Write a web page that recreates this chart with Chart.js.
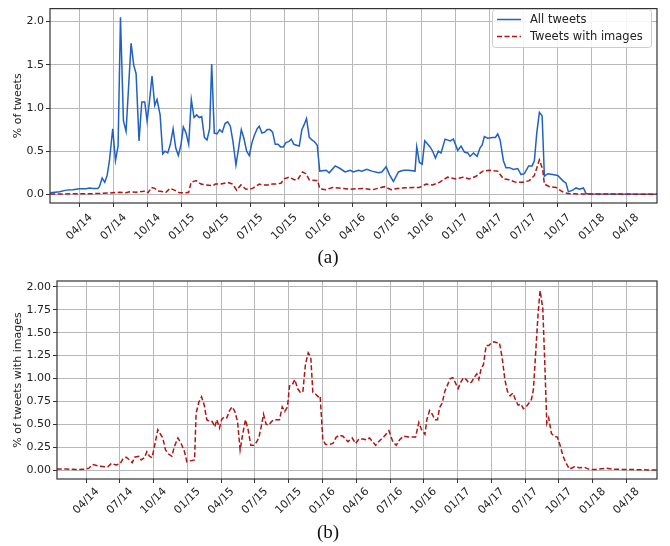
<!DOCTYPE html>
<html lang="en">
  <head>
    <meta charset="UTF-8" />
    <title>Tweets over time</title>
    <script src="https://cdn.jsdelivr.net/npm/chart.js"></script>
    <style>
      body { margin: 0; background: #fff; width: 670px; height: 546px; position: relative; overflow: hidden; }
      canvas { position: absolute; left: 0; }
      .cap { position: absolute; left: 0; width: 656px; text-align: center; font: 19px "Liberation Serif", serif; color: #111; }
    </style>
  </head>
  <body>
    <canvas id="chartA" width="670" height="250" style="top:0"></canvas>
    <div class="cap" style="top:246px">(a)</div>
    <canvas id="chartB" width="670" height="250" style="top:270px"></canvas>
    <div class="cap" style="top:521px">(b)</div>

    <script>
      // x values are months since Jan 2014 (3 = April 2014)
      const quarterPos = [3, 6, 9, 12, 15, 18, 21, 24, 27, 30, 33, 36, 39, 42, 45, 48, 51];
      const quarterLabels = ["04/14", "07/14", "10/14", "01/15", "04/15", "07/15", "10/15", "01/16",
        "04/16", "07/16", "10/16", "01/17", "04/17", "07/17", "10/17", "01/18", "04/18"];
      const xMin = 0.41, xMax = 53.72;

      const yTicksA = [0, 0.5, 1, 1.5, 2];
      const yTicksB = [0, 0.25, 0.5, 0.75, 1, 1.25, 1.5, 1.75, 2];

      // (a) All tweets
      const allT = [0.43, 1.25, 1.83, 2.42, 3.00, 3.58, 3.88, 4.17, 4.61, 4.75, 4.99, 5.22, 5.43, 5.63, 5.92,
        6.16, 6.39, 6.60, 6.86, 7.09, 7.53, 7.77, 7.97, 8.23, 8.47, 8.73, 8.94, 9.14, 9.37, 9.61, 9.81,
        10.08, 10.31, 10.51, 10.75, 10.98, 11.22, 11.45, 11.68, 11.92, 12.12, 12.36, 12.59, 12.82, 13.06,
        13.29, 13.53, 13.73, 13.97, 14.20, 14.43, 14.61, 14.84, 15.08, 15.31, 15.54, 15.78, 16.01, 16.25,
        16.48, 16.74, 16.98, 17.21, 17.44, 17.68, 17.91, 18.15, 18.38, 18.61, 18.79, 19.02, 19.26, 19.49,
        19.73, 19.96, 20.19, 20.43, 20.66, 20.90, 21.13, 21.36, 21.60, 21.83, 22.06, 22.30, 22.53, 22.74,
        22.94, 23.18, 23.41, 23.64, 23.88, 24.10, 24.67, 24.93, 25.46, 25.89, 26.33, 26.77, 27.06, 27.50,
        27.80, 28.23, 28.67, 29.26, 29.55, 29.93, 30.22, 30.57, 31.01, 31.45, 31.89, 32.47, 32.62, 32.85,
        33.10, 33.32, 33.79, 34.02, 34.26, 34.52, 34.75, 35.11, 35.55, 35.84, 36.22, 36.51, 36.81, 37.10,
        37.30, 37.60, 37.92, 38.18, 38.36, 38.56, 38.85, 39.29, 39.53, 39.73, 39.94, 40.23, 40.46, 40.76,
        41.11, 41.49, 41.78, 42.07, 42.45, 42.75, 42.95, 43.16, 43.39, 43.63, 43.83, 44.12, 44.56, 45.00,
        45.44, 45.73, 45.94, 46.32, 46.61, 46.90, 47.26, 47.49, 47.78, 53.72];
      const allV = [0.02, 0.03, 0.05, 0.055, 0.065, 0.065, 0.075, 0.07, 0.07, 0.09, 0.19, 0.14, 0.22, 0.39, 0.76,
        0.39, 0.56, 2.05, 0.85, 0.73, 1.75, 1.49, 1.40, 0.62, 1.07, 1.07, 0.85, 1.07, 1.37, 1.03, 1.10,
        0.92, 0.47, 0.50, 0.48, 0.58, 0.76, 0.54, 0.45, 0.58, 0.78, 0.71, 0.58, 1.10, 0.89,
        0.92, 0.89, 0.90, 0.66, 0.63, 0.76, 1.51, 0.71, 0.70, 0.75, 0.72, 0.82, 0.84, 0.79,
        0.61, 0.34, 0.54, 0.75, 0.65, 0.50, 0.45, 0.60, 0.69, 0.76, 0.79, 0.71, 0.72, 0.75,
        0.75, 0.72, 0.58, 0.58, 0.55, 0.55, 0.60, 0.61, 0.64, 0.58, 0.57, 0.56, 0.75, 0.81,
        0.88, 0.66, 0.63, 0.61, 0.57, 0.27, 0.28, 0.25, 0.33, 0.30, 0.26, 0.28, 0.26, 0.28,
        0.27, 0.29, 0.27, 0.25, 0.26, 0.32, 0.23, 0.15, 0.26, 0.28, 0.28, 0.27, 0.55, 0.37,
        0.35, 0.62, 0.55, 0.50, 0.42, 0.50, 0.48, 0.64, 0.62, 0.64, 0.51, 0.56, 0.49, 0.48,
        0.44, 0.48, 0.44, 0.54, 0.57, 0.67, 0.65, 0.66, 0.66, 0.70, 0.63, 0.39, 0.31, 0.31,
        0.29, 0.30, 0.23, 0.24, 0.33, 0.33, 0.39, 0.71, 0.95, 0.91, 0.21, 0.24, 0.23, 0.22,
        0.16, 0.13, 0.03, 0.05, 0.075, 0.06, 0.075, 0.01, 0.005, 0.003];

      // (a) Tweets with images, % of all tweets
      const imgT = [0.43, 4.75, 5.92, 6.51, 7.09, 7.39, 7.97, 8.26, 8.85, 9.02, 9.32, 9.61, 9.96, 10.60, 10.95,
        11.33, 11.77, 12.36, 12.59, 12.80, 13.23, 13.67, 14.11, 14.70, 14.93, 15.43, 16.01, 16.45, 16.80,
        17.18, 17.62, 18.20, 18.79, 19.08, 19.52, 19.96, 20.25, 20.69, 20.98, 21.42, 21.86, 22.15, 22.59,
        22.88, 23.18, 23.76, 23.91, 24.11, 24.64, 25.22, 25.75, 26.71, 27.88, 28.76, 29.78, 30.37, 31.24,
        32.27, 32.85, 33.44, 34.02, 34.61, 35.34, 36.07, 36.66, 37.24, 37.83, 38.42, 39.00, 39.73, 40.23,
        40.76, 41.34, 41.93, 42.51, 42.95, 43.39, 43.68, 43.83, 44.27, 44.85, 45.44, 45.88, 47.20, 53.72];
      const imgV = [0.005, 0.01, 0.02, 0.025, 0.02, 0.03, 0.025, 0.03, 0.04, 0.02, 0.08, 0.07, 0.04, 0.025, 0.07,
        0.05, 0.02, 0.02, 0.025, 0.14, 0.16, 0.12, 0.11, 0.10, 0.12, 0.12, 0.14, 0.12, 0.05,
        0.11, 0.06, 0.07, 0.12, 0.11, 0.11, 0.12, 0.12, 0.13, 0.18, 0.20, 0.17, 0.17, 0.26,
        0.24, 0.17, 0.16, 0.16, 0.065, 0.055, 0.08, 0.075, 0.06, 0.07, 0.055, 0.09, 0.055, 0.075,
        0.08, 0.08, 0.12, 0.11, 0.14, 0.20, 0.18, 0.20, 0.18, 0.21, 0.27, 0.28, 0.27, 0.18,
        0.17, 0.14, 0.14, 0.16, 0.22, 0.40, 0.29, 0.12, 0.09, 0.08, 0.03, 0.01, 0.005, 0.003];

      // (b) % of tweets with images
      const pctT = [0.39, 1.22, 2.11, 2.94, 3.24, 3.59, 4.04, 4.63, 4.93, 5.22, 5.67, 6.02, 6.26, 6.55, 6.85,
        7.09, 7.30, 7.68, 7.89, 8.18, 8.39, 8.63, 8.86, 9.07, 9.37, 9.66, 9.81, 10.05, 10.32, 10.61, 10.85,
        11.15, 11.44, 11.74, 11.95, 12.24, 12.63, 12.77, 13.01, 13.25, 13.49, 13.72, 13.96, 14.20, 14.43,
        14.61, 14.85, 15.03, 15.26, 15.50, 15.74, 15.97, 16.21, 16.45, 16.68, 16.92, 17.16, 17.39, 17.63,
        17.87, 18.11, 18.34, 18.58, 18.76, 18.99, 19.23, 19.47, 19.71, 19.94, 20.18, 20.42, 20.65, 20.89,
        21.07, 21.31, 21.54, 21.78, 22.02, 22.25, 22.49, 22.73, 22.96, 23.14, 23.38, 23.62, 23.79, 24.03,
        24.27, 24.62, 24.92, 25.22, 25.51, 25.82, 26.26, 26.64, 26.94, 27.24, 27.59, 27.89, 28.18, 28.72,
        29.07, 29.43, 29.90, 30.25, 30.55, 30.85, 31.20, 31.62, 31.97, 32.27, 32.56, 32.80, 33.10, 33.27,
        33.51, 33.75, 33.98, 34.22, 34.40, 34.63, 34.87, 35.11, 35.34, 35.58, 35.82, 36.05, 36.29, 36.53,
        36.76, 37.00, 37.24, 37.47, 37.71, 37.89, 38.10, 38.30, 38.54, 38.78, 39.01, 39.25, 39.49, 39.72,
        39.96, 40.20, 40.43, 40.67, 40.91, 41.14, 41.38, 41.62, 41.85, 42.09, 42.33, 42.56, 42.74, 42.92,
        43.16, 43.33, 43.57, 43.75, 43.93, 44.10, 44.34, 44.58, 44.87, 45.11, 45.35, 45.58, 45.94, 46.38,
        46.83, 47.27, 47.71, 48.30, 49.19, 49.78, 50.67, 53.72];
      const pctV = [0.01, 0.01, 0.005, 0.01, 0.02, 0.06, 0.045, 0.035, 0.035, 0.07, 0.055, 0.07, 0.12, 0.14, 0.11,
        0.08, 0.14, 0.15, 0.11, 0.135, 0.20, 0.15, 0.135, 0.26, 0.44, 0.38, 0.35, 0.22, 0.175, 0.15, 0.26,
        0.35, 0.29, 0.20, 0.09, 0.10, 0.11, 0.62, 0.74, 0.80, 0.71, 0.55, 0.53, 0.53, 0.47,
        0.55, 0.46, 0.55, 0.58, 0.57, 0.65, 0.69, 0.64, 0.53, 0.22, 0.40, 0.55, 0.44, 0.27,
        0.27, 0.30, 0.35, 0.49, 0.61, 0.50, 0.49, 0.53, 0.55, 0.55, 0.55, 0.69, 0.64, 0.69,
        0.92, 0.93, 0.99, 0.89, 0.85, 0.85, 1.16, 1.28, 1.23, 0.85, 0.83, 0.80, 0.81, 0.33,
        0.28, 0.28, 0.29, 0.36, 0.38, 0.37, 0.31, 0.35, 0.29, 0.34, 0.34, 0.33, 0.35, 0.27,
        0.32, 0.36, 0.43, 0.31, 0.27, 0.33, 0.37, 0.36, 0.36, 0.36, 0.52, 0.44, 0.39, 0.55,
        0.65, 0.61, 0.55, 0.55, 0.68, 0.73, 0.86, 0.93, 1.00, 1.01, 0.95, 0.89, 0.96, 1.01,
        0.99, 0.95, 0.96, 1.01, 1.05, 0.99, 1.11, 1.15, 1.36, 1.36, 1.39, 1.40, 1.39, 1.39,
        1.23, 0.99, 0.86, 0.81, 0.84, 0.77, 0.71, 0.72, 0.67, 0.69, 0.73, 0.77, 0.88, 1.24,
        1.72, 1.96, 1.77, 1.17, 0.51, 0.57, 0.40, 0.37, 0.36, 0.27, 0.16, 0.09, 0.01, 0.035,
        0.025, 0.03, 0.007, 0.007, 0.02, 0.01, 0.007, 0.0];

      const BLUE = "#2160c4";
      const RED = "#b01515";
      const FONT = '"DejaVu Sans", sans-serif';

      const pts = (t, v) => t.map((x, i) => ({ x: x, y: v[i] }));

      // frame, rotated date labels, y title, optional legend
      function decorPlugin(yTitle, labelGap, legend) {
        return {
          id: "decor",
          afterDraw(chart) {
            const { ctx, chartArea: a, scales } = chart;
            ctx.save();
            ctx.strokeStyle = "#333";
            ctx.lineWidth = 1.2;
            ctx.strokeRect(a.left, a.top, a.right - a.left, a.bottom - a.top);

            ctx.fillStyle = "#222";
            ctx.font = "11px " + FONT;
            ctx.textAlign = "center";
            ctx.textBaseline = "middle";
            quarterPos.forEach((q, i) => {
              const px = scales.x.getPixelForValue(q);
              const w = ctx.measureText(quarterLabels[i]).width;
              const half = (w + 8) / (2 * Math.SQRT2);
              ctx.save();
              ctx.translate(px, a.bottom + labelGap + half);
              ctx.rotate(-Math.PI / 4);
              ctx.fillText(quarterLabels[i], 0, 0);
              ctx.restore();
            });

            ctx.save();
            ctx.translate(18, (a.top + a.bottom) / 2);
            ctx.rotate(-Math.PI / 2);
            ctx.fillText(yTitle, 0, 0);
            ctx.restore();

            if (legend) {
              ctx.fillStyle = "rgba(255,255,255,0.85)";
              ctx.strokeStyle = "#cccccc";
              ctx.lineWidth = 1;
              ctx.beginPath();
              ctx.roundRect(492.5, 9.5, 159, 38, 3);
              ctx.fill();
              ctx.stroke();
              const rows = [
                { label: "All tweets", color: BLUE, dash: [], y: 19.5 },
                { label: "Tweets with images", color: RED, dash: [5, 2.5], y: 36.5 },
              ];
              ctx.font = "11.5px " + FONT;
              ctx.textAlign = "left";
              rows.forEach((r) => {
                ctx.strokeStyle = r.color;
                ctx.lineWidth = 1.5;
                ctx.setLineDash(r.dash);
                ctx.beginPath();
                ctx.moveTo(497, r.y);
                ctx.lineTo(521, r.y);
                ctx.stroke();
                ctx.setLineDash([]);
                ctx.fillStyle = "#222";
                ctx.fillText(r.label, 530, r.y + 0.5);
              });
            }
            ctx.restore();
          },
        };
      }

      function makeOptions(yMin, yMax, yTicks, yWidth, xHeight, padTop, digits) {
        return {
          responsive: false,
          animation: false,
          devicePixelRatio: 1,
          layout: { padding: { left: 0, right: 13, top: padTop, bottom: 0 } },
          plugins: { legend: { display: false }, tooltip: { enabled: false } },
          elements: { point: { radius: 0 }, line: { tension: 0 } },
          scales: {
            x: {
              type: "linear",
              min: xMin,
              max: xMax,
              afterBuildTicks: (s) => { s.ticks = quarterPos.map((v) => ({ value: v })); },
              afterFit: (s) => { s.height = xHeight; },
              ticks: { display: false },
              border: { display: false },
              grid: { color: "#b8b8b8", lineWidth: 1, tickLength: 4, tickColor: "#333" },
            },
            y: {
              min: yMin,
              max: yMax,
              afterBuildTicks: (s) => { s.ticks = yTicks.map((v) => ({ value: v })); },
              afterFit: (s) => { s.width = yWidth; },
              border: { display: false },
              grid: { color: "#b8b8b8", lineWidth: 1, tickLength: 4, tickColor: "#333" },
              ticks: {
                padding: 2,
                color: "#222",
                font: { family: FONT, size: 11 },
                callback: (v) => Number(v).toFixed(digits),
              },
            },
          },
        };
      }

      new Chart(document.getElementById("chartA"), {
        type: "line",
        data: {
          datasets: [
            { label: "Tweets with images", data: pts(imgT, imgV), borderColor: RED, borderWidth: 1.5, borderDash: [5, 2.5], fill: false },
            { label: "All tweets", data: pts(allT, allV), borderColor: BLUE, borderWidth: 1.5, fill: false },
          ],
        },
        options: makeOptions(-0.099, 2.15, yTicksA, 50, 47, 4, 1),
        plugins: [decorPlugin("% of tweets", 10, true)],
      });

      new Chart(document.getElementById("chartB"), {
        type: "line",
        data: {
          datasets: [
            { label: "% of tweets with images", data: pts(pctT, pctV), borderColor: RED, borderWidth: 1.5, borderDash: [5, 2.5], fill: false },
          ],
        },
        options: makeOptions(-0.098, 2.065, yTicksB, 57, 41, 11, 2),
        plugins: [decorPlugin("% of tweets with images", 8, false)],
      });
    </script>
  </body>
</html>
